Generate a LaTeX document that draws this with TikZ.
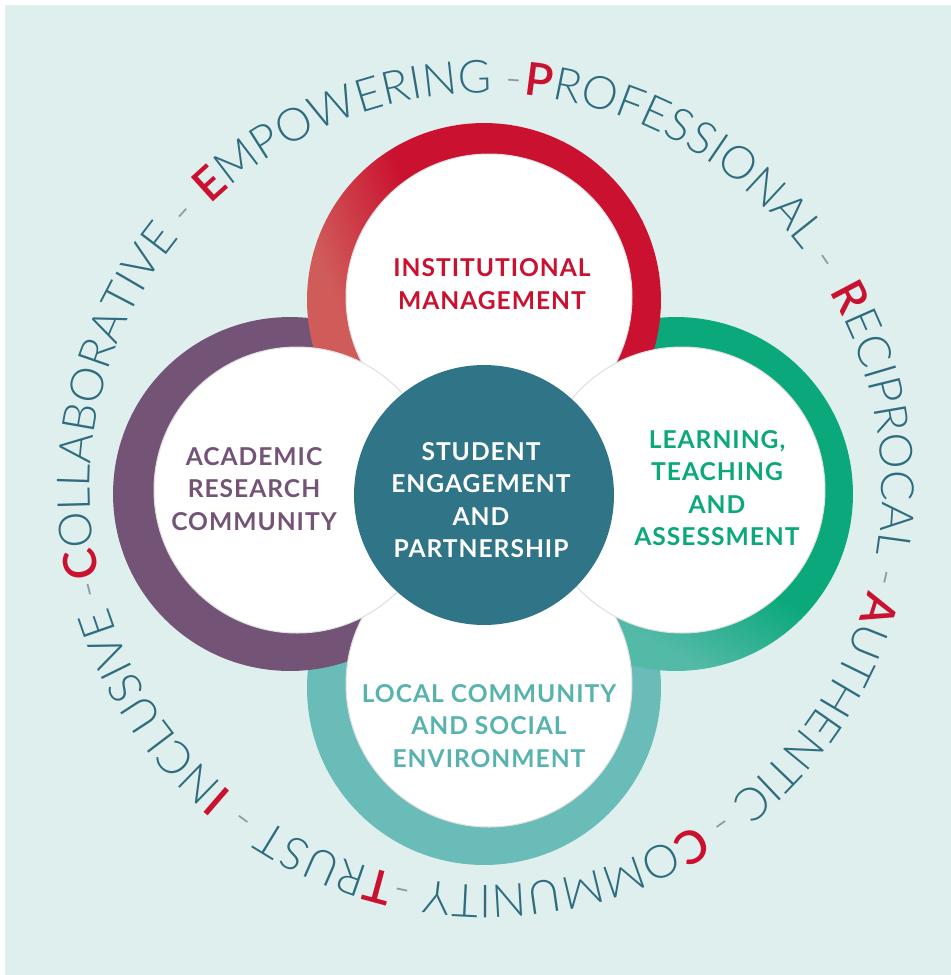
\documentclass[tikz,border=0pt]{standalone}
\usepackage{fontspec}
\setmainfont{Lato}
\IfFontExistsTF{Lato Light}{\newfontfamily\ringfont{Lato Light}}{\newfontfamily\ringfont{Lato}}
\usetikzlibrary{positioning, decorations.text}
\definecolor{bgmint}{RGB}{223,239,238}
\definecolor{ringred}{RGB}{202,18,48}
\definecolor{ringcoral}{RGB}{208,92,90}
\definecolor{ringgreen}{RGB}{10,168,122}
\definecolor{ringgreenfade}{RGB}{84,186,168}
\definecolor{ringteal}{RGB}{106,188,185}
\definecolor{localteal}{RGB}{88,178,174}
\definecolor{ringpurple}{RGB}{115,84,118}
\definecolor{hubteal}{RGB}{48,116,135}
\definecolor{wordteal}{RGB}{46,108,126}
\definecolor{dashgrey}{RGB}{140,155,160}
\pgfdeclarehorizontalshading{redfade}{100bp}{color(0bp)=(ringcoral); color(30bp)=(ringcoral); color(45bp)=(ringred); color(100bp)=(ringred)}
\pgfdeclarehorizontalshading{greenfade}{100bp}{color(0bp)=(ringgreenfade); color(30bp)=(ringgreenfade); color(45bp)=(ringgreen); color(100bp)=(ringgreen)}
\tikzset{
	ring/.style={circle, inner sep=0pt, minimum size=7.08cm},
	inner/.style={circle, inner sep=0pt, minimum size=5.72cm, fill=white, draw=black!12, line width=0.6pt},
	lbl/.style={align=center, font=\fontsize{14}{18.5}\selectfont\bfseries\addfontfeatures{LetterSpace=4}},
	word/.style={decorate, decoration={text along path, text={#1}}},
}

\begin{document}
\begin{tikzpicture}[x=0.02cm, y=0.02cm]

	\def \ringr {396}

	\useasboundingbox (0,0) rectangle (951,-975);
	\fill[white] (0,0) rectangle (951,-975);
	\fill[bgmint] (5,-5) rectangle (951,-975);

	% coloured rings
	\node (localring) at (484,-688) [ring, fill=ringteal] {};
	\node (acadring) at (290,-494) [ring, fill=ringpurple] {};
	\node (ltaring) at (676,-494) [ring, shading=greenfade, shading angle=60] {};
	\node (instring) at (484,-300) [ring, shading=redfade, shading angle=20] {};

	% white discs
	\node (inst) at (489,-297) [inner] {};
	\node (local) at (489,-684) [inner] {};
	\node (acad) at (297,-490) [inner] {};
	\node (lta) at (682,-490) [inner] {};

	\node (hub) at (484,-495) [circle, inner sep=0pt, minimum size=5.2cm, fill=hubteal] {};
	\node (hublbl) at (481,-500) [lbl, text=white] {STUDENT\\ENGAGEMENT\\AND\\PARTNERSHIP};

	\node (instlbl) at (492,-284) [lbl, text=ringred] {INSTITUTIONAL\\MANAGEMENT};
	\node (acadlbl) at (254,-489) [lbl, text=ringpurple] {ACADEMIC\\RESEARCH\\COMMUNITY};
	\node (ltalbl) at (717,-488) [lbl, text=ringgreen] {LEARNING,\\TEACHING\\AND\\ASSESSMENT};
	\node (locallbl) at (489,-726) [lbl, text=localteal] {LOCAL COMMUNITY\\AND SOCIAL\\ENVIRONMENT};

	% values round the outside
	\ringfont\fontsize{26}{30}\selectfont
	\coordinate (c) at (486,-489);
	\path[word={|\bfseries\color{ringred}|C|\mdseries\color{wordteal}|OLLABORATIVE |\color{dashgrey}|-}] (c) ++(192.8:\ringr) arc[start angle=192.8, end angle=110, radius=\ringr];
	\path[word={|\bfseries\color{ringred}|E|\mdseries\color{wordteal}|MPOWERING |\color{dashgrey}|-}] (c) ++(134.1:\ringr) arc[start angle=134.1, end angle=60, radius=\ringr];
	\path[word={|\bfseries\color{ringred}|P|\mdseries\color{wordteal}|ROFESSIONAL |\color{dashgrey}|-}] (c) ++(84.5:\ringr) arc[start angle=84.5, end angle=0, radius=\ringr];
	\path[word={|\bfseries\color{ringred}|R|\mdseries\color{wordteal}|ECIPROCAL |\color{dashgrey}|-}] (c) ++(29.9:\ringr) arc[start angle=29.9, end angle=-40, radius=\ringr];
	\path[word={|\bfseries\color{ringred}|A|\mdseries\color{wordteal}|UTHENTIC |\color{dashgrey}|-}] (c) ++(-14.9:\ringr) arc[start angle=-14.9, end angle=-80, radius=\ringr];
	\path[word={|\bfseries\color{ringred}|C|\mdseries\color{wordteal}|OMMUNITY |\color{dashgrey}|-}] (c) ++(-57.8:\ringr) arc[start angle=-57.8, end angle=-120, radius=\ringr];
	\path[word={|\bfseries\color{ringred}|T|\mdseries\color{wordteal}|RUST |\color{dashgrey}|-}] (c) ++(-103.2:\ringr) arc[start angle=-103.2, end angle=-140, radius=\ringr];
	\path[word={|\bfseries\color{ringred}|I|\mdseries\color{wordteal}|NCLUSIVE |\color{dashgrey}|-}] (c) ++(-129.8:\ringr) arc[start angle=-129.8, end angle=-175, radius=\ringr];

\end{tikzpicture}
\end{document}
